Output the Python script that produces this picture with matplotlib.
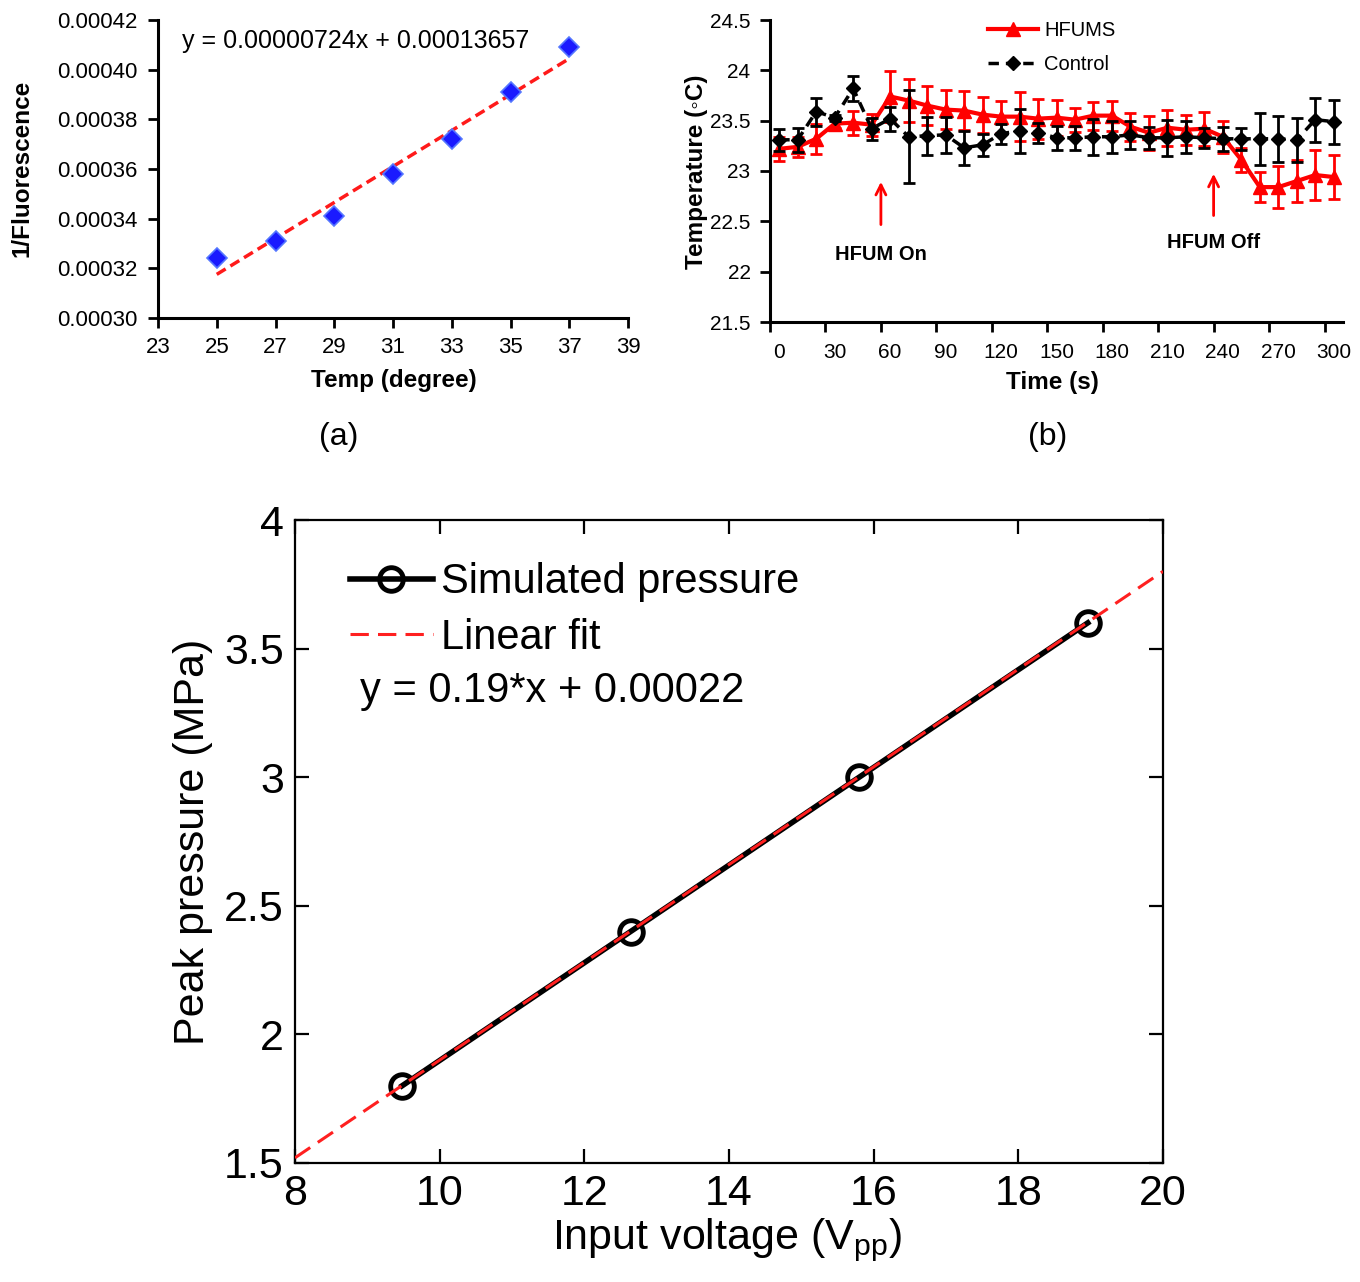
import matplotlib
matplotlib.use("Agg")
import matplotlib.pyplot as plt
from matplotlib.ticker import FormatStrFormatter, FixedLocator, FixedFormatter
from matplotlib.lines import Line2D
import numpy as np

# ---------------- data ----------------
# (a) calibration
temp_a = [25, 27, 29, 31, 33, 35, 37]
inv_fluor = [0.000324, 0.000331, 0.000341, 0.000358, 0.000372, 0.000391, 0.000409]
fit_a_slope = 0.00000724
fit_a_intercept = 0.00013657
fit_a_range = [25, 37]

# (b) temperature vs time
time_s = [0, 10, 20, 30, 40, 50, 60, 70, 80, 90, 100, 110, 120, 130, 140, 150,
          160, 170, 180, 190, 200, 210, 220, 230, 240, 250, 260, 270, 280, 290, 300]
hfums = [23.22, 23.24, 23.32, 23.47, 23.48, 23.46, 23.74, 23.70, 23.65, 23.61, 23.60,
         23.56, 23.54, 23.54, 23.52, 23.53, 23.51, 23.55, 23.55, 23.44, 23.38, 23.43,
         23.41, 23.42, 23.34, 23.11, 22.84, 22.84, 22.90, 22.96, 22.94]
hfums_err = [0.12, 0.10, 0.15, 0.04, 0.12, 0.11, 0.25, 0.21, 0.19, 0.19, 0.19,
             0.18, 0.16, 0.24, 0.20, 0.18, 0.12, 0.14, 0.15, 0.14, 0.17, 0.18,
             0.15, 0.17, 0.16, 0.12, 0.15, 0.21, 0.21, 0.25, 0.22]
control = [23.31, 23.31, 23.59, 23.53, 23.82, 23.42, 23.52, 23.34, 23.35, 23.36, 23.23,
           23.26, 23.37, 23.40, 23.38, 23.33, 23.33, 23.34, 23.34, 23.36, 23.33, 23.33,
           23.34, 23.33, 23.32, 23.32, 23.32, 23.32, 23.31, 23.51, 23.49]
control_err = [0.11, 0.12, 0.14, 0.03, 0.12, 0.11, 0.12, 0.46, 0.19, 0.18, 0.17,
               0.11, 0.10, 0.22, 0.10, 0.12, 0.12, 0.18, 0.16, 0.14, 0.11, 0.18,
               0.16, 0.10, 0.12, 0.11, 0.26, 0.23, 0.22, 0.22, 0.22]
time_ticklabels = ["0", "30", "60", "90", "120", "150", "180", "210", "240", "270", "300"]
hfum_on_time = 55
hfum_off_time = 235

# (c) pressure vs voltage
voltage = [9.48, 12.64, 15.80, 18.96]
pressure = [1.80, 2.40, 3.00, 3.60]
fit_c_slope = 0.19
fit_c_intercept = 0.00022
fit_c_range = [8, 20]

# ---------------- figure ----------------
W, H = 1360, 1282
fig = plt.figure(figsize=(W / 100, H / 100), dpi=100)
plt.rcParams['font.family'] = ['Liberation Sans', 'DejaVu Sans']


def fx(px):
    return px / W


def fy(py):
    return 1 - py / H


# ======== panel (a) ========
ax1 = fig.add_axes([fx(158), fy(318), 470 / W, 298 / H])
ax1.set_xlim(23, 39)
ax1.set_ylim(0.00030, 0.00042)
ax1.set_xticks(np.arange(23, 40, 2))
ax1.set_yticks(np.arange(0.00030, 0.000421, 0.00002))
ax1.yaxis.set_major_formatter(FormatStrFormatter('%.5f'))
for s in ['top', 'right']:
    ax1.spines[s].set_visible(False)
for s in ['left', 'bottom']:
    ax1.spines[s].set_linewidth(2.2)
ax1.tick_params(direction='out', length=7, width=2, labelsize=16)
ax1.tick_params(axis='y', pad=8)
ax1.tick_params(axis='x', pad=7)
xf = np.array(fit_a_range)
ax1.plot(xf, fit_a_slope * xf + fit_a_intercept, color='#ff1a1a', lw=2.5,
         dashes=(3, 1.6), zorder=2)
ax1.plot(temp_a, inv_fluor, linestyle='none', marker='D', markersize=10,
         markerfacecolor='#1a1aff', markeredgecolor='#5577ff', markeredgewidth=1.2, zorder=3)
ax1.text(0.05, 0.93, "y = 0.00000724x + 0.00013657", transform=ax1.transAxes,
         fontsize=18, ha='left', va='center')
fig.text(fx(22), fy(168), "1/Fluorescence", rotation=90, fontsize=17.5,
         fontweight='bold', ha='center', va='center')
fig.text(fx(394), fy(380), "Temp (degree)", fontsize=17.5, fontweight='bold',
         ha='center', va='center')
fig.text(fx(339), fy(437), "(a)", fontsize=23, ha='center', va='center')

# ======== panel (b) ========
ax2 = fig.add_axes([fx(770), fy(322), 573 / W, 302 / H])
ax2.set_xlim(-5, 305)
ax2.set_ylim(21.5, 24.5)
ax2.set_yticks(np.arange(21.5, 24.51, 0.5))
ax2.yaxis.set_major_formatter(FormatStrFormatter('%g'))
ax2.xaxis.set_major_locator(FixedLocator(np.arange(-5, 300, 30)))
ax2.xaxis.set_major_formatter(FixedFormatter([''] * 11))
ax2.xaxis.set_minor_locator(FixedLocator(np.arange(0, 301, 30)))
ax2.xaxis.set_minor_formatter(FixedFormatter(time_ticklabels))
ax2.tick_params(axis='x', which='minor', length=0, labelsize=15, pad=15)
for s in ['top', 'right']:
    ax2.spines[s].set_visible(False)
for s in ['left', 'bottom']:
    ax2.spines[s].set_linewidth(2.2)
ax2.tick_params(which='major', direction='out', length=7, width=2, labelsize=15, pad=7)

ax2.errorbar(time_s, hfums, yerr=hfums_err, color='#ff0000', lw=3, marker='^',
             markersize=10, elinewidth=2, capsize=4, capthick=2, zorder=2)
ax2.errorbar(time_s, control, yerr=control_err, color='black', lw=2.5, marker='D',
             markersize=7.5, elinewidth=2, capsize=4, capthick=2, linestyle=(0, (3, 2)),
             zorder=3)
# arrows
ax2.annotate("", xy=(hfum_on_time, 22.92), xytext=(hfum_on_time, 22.44),
             arrowprops=dict(arrowstyle='->', color='#ff0000', lw=2, mutation_scale=18))
ax2.annotate("", xy=(hfum_off_time, 23.0), xytext=(hfum_off_time, 22.53),
             arrowprops=dict(arrowstyle='->', color='#ff0000', lw=2, mutation_scale=18))
ax2.text(hfum_on_time, 22.17, "HFUM On", fontsize=14.5, fontweight='bold',
         ha='center', va='center')
ax2.text(hfum_off_time, 22.29, "HFUM Off", fontsize=14.5, fontweight='bold',
         ha='center', va='center')
leg_handles = [
    Line2D([], [], color='#ff0000', lw=3, marker='^', markersize=10),
    Line2D([], [], color='black', lw=2.5, marker='D', markersize=7.5, linestyle=(0, (3, 2))),
]
ax2.legend(leg_handles, ['HFUMS', 'Control'], loc='upper left',
           bbox_to_anchor=(0.38, 0.998), frameon=False,
           fontsize=14.5, handlelength=2.5, handletextpad=0.3, labelspacing=0.75,
           borderpad=0, borderaxespad=0)
fig.text(fx(697), fy(172), "Temperature (\u25e6C)", rotation=90, fontsize=17.5,
         fontweight='bold', ha='center', va='center')
fig.text(fx(1052), fy(382), "Time (s)", fontsize=17.5, fontweight='bold',
         ha='center', va='center')
fig.text(fx(1048), fy(437), "(b)", fontsize=23, ha='center', va='center')

# ======== panel (c) ========
cfont = ['Liberation Sans', 'DejaVu Sans']
ax3 = fig.add_axes([fx(295), fy(1163), 868 / W, 643 / H])
ax3.set_xlim(8, 20)
ax3.set_ylim(1.5, 4)
ax3.set_xticks(np.arange(8, 20.1, 2))
ax3.set_yticks(np.arange(1.5, 4.01, 0.5))
ax3.xaxis.set_major_formatter(FormatStrFormatter('%g'))
ax3.yaxis.set_major_formatter(FormatStrFormatter('%g'))
for s in ax3.spines.values():
    s.set_linewidth(1.6)
ax3.tick_params(direction='in', length=10, width=1.6, top=True, right=True,
                labelsize=31, pad=8)
ax3.plot(voltage, pressure, color='black', lw=4, marker='o', markersize=17,
         markerfacecolor='none', markeredgecolor='black', markeredgewidth=3.5,
         label='Simulated pressure', zorder=2)
xc = np.array(fit_c_range)
ax3.plot(xc, fit_c_slope * xc + fit_c_intercept, color='#ff2020', lw=2.2, dashes=(6, 3),
         label='Linear fit', zorder=3)
ax3.legend(loc='upper left', bbox_to_anchor=(0.063, 0.934), frameon=False,
           prop={'family': cfont, 'size': 30}, handlelength=2.0,
           handletextpad=0.2, labelspacing=0.37, borderpad=0, borderaxespad=0)
ax3.text(0.075, 0.734, "y = 0.19*x + 0.00022", transform=ax3.transAxes, fontsize=30,
         family=cfont, ha='left', va='center')
fig.text(fx(193), fy(842), "Peak pressure (MPa)", rotation=90, fontsize=31,
         family=cfont, ha='center', va='center')
fig.text(fx(727), fy(1240), r"Input voltage (V$_{\mathregular{pp}}$)", fontsize=31,
         family=cfont, ha='center', va='center')

fig.savefig("out.png", dpi=100)
